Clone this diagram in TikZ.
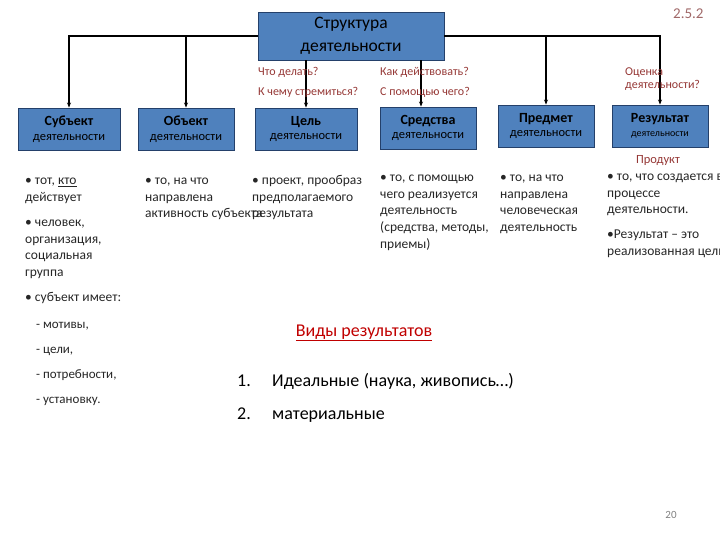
\documentclass[tikz,border=0pt]{standalone}
\usepackage{fontspec}
\setmainfont{Carlito}
\usetikzlibrary{positioning,arrows.meta}
\definecolor{boxblue}{HTML}{4F81BD}
\definecolor{boxedge}{HTML}{24406A}
\definecolor{askred}{HTML}{953735}
\definecolor{headred}{HTML}{C00000}
\definecolor{pagegrey}{HTML}{A06868}
\definecolor{txtgrey}{HTML}{262626}

\begin{document}
\begin{tikzpicture}[x=1pt,y=-1pt,
    block/.style={draw=boxedge,fill=boxblue,line width=0.9pt,minimum width=96pt,minimum height=42pt,align=center,inner sep=1pt},
    link/.style={line width=1.7pt,-{Stealth[length=5pt,width=4pt]}},
    ask/.style={anchor=west,text=askred,font=\fontsize{12}{13.5}\selectfont,inner sep=0pt},
    body/.style={anchor=north west,align=left,text=txtgrey,inner sep=0pt,font=\fontsize{13.5}{16.6}\selectfont},
    big/.style={anchor=base west,inner sep=0pt,font=\fontsize{18}{20}\selectfont}]
  \useasboundingbox (0,0) rectangle (720,540);
  \clip (0,0) rectangle (720,540);
  % top box
  \node[block,minimum width=186pt,minimum height=48pt,font=\fontsize{17.5}{23}\selectfont] (top) at (351,36) {Структура\\деятельности};
  \node[anchor=west,text=pagegrey,font=\fontsize{15}{16}\selectfont,inner sep=0pt] (num) at (673,14) {2.5.2};
  % six boxes
  \foreach \n/\x/\y/\w/\t/\s in {
      subj/69/129/102/Субъект/12.5,
      obj/186/129/96/Объект/12.5,
      goal/306/129/102/Цель/12.5,
      means/428/128/96/Средства/12.5,
      item/546/126/96/Предмет/12.5,
      result/660/126/96/Результат/10} {
    \node[block,minimum width=\w pt,font=\fontsize{14}{14.5}\selectfont] (\n) at (\x,\y)
      {{\bfseries \t}\\{\fontsize{\s}{12}\selectfont деятельности}};
  }
  \draw[link] (top.west) -| (subj.north);
  \draw[link] (top.west) -| (obj.north);
  \draw[link] (goal.north |- top.south) -- (goal.north);
  \draw[link] ([xshift=-7pt]means.north |- top.south) -- ([xshift=-7pt]means.north);
  \draw[link] (top.east) -| (item.north);
  \draw[link] (top.east) -| (result.north);
  % questions
  \node[ask] (q1) at (258,72) {Что делать?};
  \node[ask] (q2) at (258,92) {К чему стремиться?};
  \node[ask] (q3) at (380,72) {Как действовать?};
  \node[ask] (q4) at (380,92) {С помощью чего?};
  \node[ask,align=left] (q5) at (625,79) {Оценка\\деятельности?};
  \node[text=askred,font=\fontsize{12.5}{13}\selectfont] (prod) at (658,161) {Продукт};
  % bullet texts
  \node[body] (t1) at (25,172.9) {\strut• тот, \underline{кто}\\действует};
  \node[body] (t2) at (25,214.9) {\strut• человек,\\организация,\\социальная\\группа};
  \node[body] (t3) at (25,289.9) {\strut• субъект имеет:};
  \node[body,font=\fontsize{13}{25}\selectfont] (t4) at (36,310.9) {\strut- мотивы,\\- цели,\\- потребности,\\- установку.};
  \node[body] (t5) at (145,172.9) {\strut• то, на что\\направлена\\активность субъекта};
  \node[body] (t6) at (252,172.9) {\strut• проект, прообраз\\предполагаемого\\результата};
  \node[body] (t7) at (380,169.9) {\strut• то, с помощью\\чего реализуется\\деятельность\\(средства, методы,\\приемы)};
  \node[body] (t8) at (500,169.9) {\strut• то, на что\\направлена\\человеческая\\деятельность};
  \node[body] (t9) at (607,168.9) {\strut• то, что создается в\\процессе\\деятельности.};
  \node[body] (t10) at (607,226.9) {\strut•Результат – это\\реализованная цель};
  % kinds of results
  \node[text=headred,font=\fontsize{18}{20}\selectfont] (kinds) at (364,333) {\underline{Виды результатов}};
  \node[big] (n1) at (237,386) {1.};
  \node[big] (k1) at (272,386) {Идеальные (наука, живопись…)};
  \node[big] (n2) at (237,419) {2.};
  \node[big] (k2) at (272,419) {материальные};
  \node[text=gray,font=\fontsize{11}{13}\selectfont] (pg) at (671,515) {20};
\end{tikzpicture}
\end{document}
